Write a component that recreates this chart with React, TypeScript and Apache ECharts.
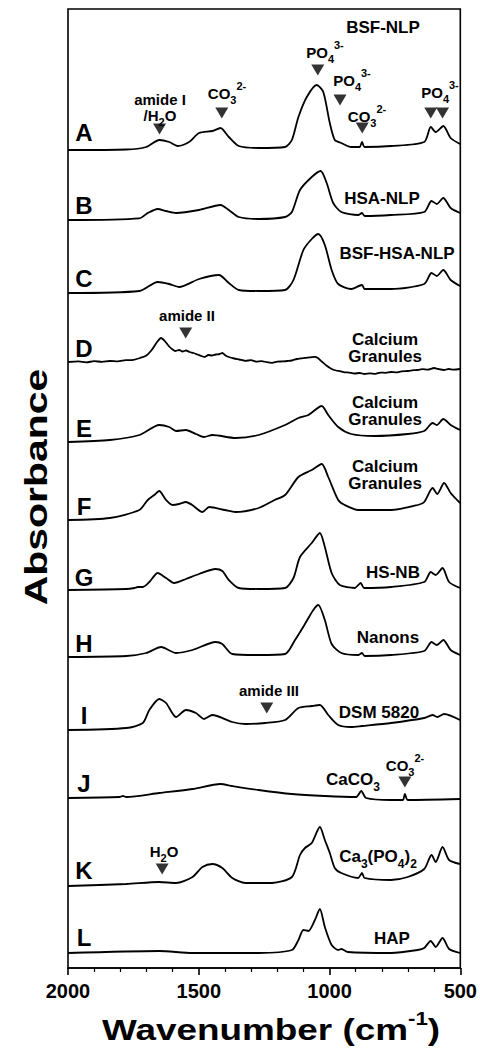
import React, { useEffect, useRef } from "react";
import * as echarts from "echarts";

// ---------- data (wavenumber cm^-1, relative absorbance) ----------
const xTickValues = [2000, 1500, 1000, 500];
const traceLetters = ["A", "B", "C", "D", "E", "F", "G", "H", "I", "J", "K", "L"];
const traceOffsets = [818, 748, 675, 606, 526, 448, 378, 311, 238, 170, 82, 15];

const traceA: number[][] = [[2000,0],[1777,0.5],[1701,3],[1651,10],[1613,8],[1581,4],[1537,8],[1499,17],[1448,19],[1417,22],[1385,13],[1347,4],[1271,2],[1170,3],[1144,10],[1119,33],[1087,53],[1049,65],[1024,58],[999,27],[980,10],[955,7],[917,3],[885,3],[876,8],[866,3],[765,4],[638,8],[613,23],[594,18],[565,24],[537,12],[501,6]];
const traceB: number[][] = [[2000,0],[1727,1.7],[1695,7],[1657,11],[1625,9],[1587,7],[1499,10],[1417,15],[1385,10],[1347,3],[1271,1],[1170,3],[1144,8],[1113,30],[1068,43],[1034,49],[1011,37],[986,17],[955,8],[891,5],[876,7],[866,4],[765,5],[638,8],[610,19],[590,16],[565,22],[537,12],[501,7]];
const traceC: number[][] = [[2000,0],[1727,2],[1657,11],[1613,9],[1575,6],[1499,14],[1423,18],[1385,10],[1347,3],[1271,2],[1170,3],[1138,13],[1100,43],[1068,54],[1043,59],[1018,48],[992,23],[967,9],[917,4],[876,8],[866,4],[765,4],[638,9],[610,20],[590,17],[565,23],[537,13],[501,7]];
const traceD: number[][] = [[2000,0],[1960,0.6],[1930,-0.3],[1900,0.8],[1870,0.2],[1840,1],[1810,0.6],[1780,1.8],[1750,2.2],[1725,4],[1700,6.5],[1680,12],[1662,19],[1644,24],[1630,21],[1615,16],[1600,12.5],[1590,11],[1575,12],[1562,10.5],[1549,11.5],[1535,10],[1520,9],[1505,7.5],[1490,6],[1478,5],[1463,7],[1450,6.5],[1435,7.5],[1420,8],[1410,9],[1398,6.5],[1385,5],[1365,3.5],[1345,2.5],[1322,1.2],[1300,1.8],[1280,0.4],[1260,0.9],[1240,-0.2],[1220,-0.8],[1200,0.3],[1180,0.6],[1160,1],[1144,1.5],[1125,3],[1110,3.6],[1094,4.2],[1075,4.6],[1056,5.2],[1045,4],[1030,0.5],[1012,-3.5],[992,-7],[975,-8.5],[960,-9.2],[942,-10.3],[925,-10.6],[905,-11.5],[885,-11],[866,-12],[845,-11.4],[825,-11.8],[805,-10.6],[785,-10.8],[765,-10],[745,-10.4],[725,-9.3],[700,-9],[680,-8.2],[663,-8],[645,-7.2],[625,-7.6],[600,-6],[585,-7],[562,-8],[545,-7],[525,-7.6],[501,-7]];
const traceE: number[][] = [[2000,0],[1840,2],[1727,7],[1651,17],[1613,15],[1587,11],[1549,12],[1511,8],[1480,5],[1448,7],[1359,4],[1271,7],[1170,17],[1119,24],[1081,27],[1030,36],[1005,27],[967,15],[917,8],[828,6],[701,8],[638,11],[606,19],[590,17],[565,23],[537,17],[501,12]];
const traceF: number[][] = [[2000,0],[1840,2],[1727,10],[1695,20],[1670,25],[1651,29],[1625,20],[1600,15],[1575,16],[1549,18],[1525,15],[1486,8],[1460,13],[1400,10],[1360,8],[1271,12],[1210,20],[1170,25],[1119,43],[1068,50],[1030,56],[1005,43],[967,20],[942,15],[891,10],[765,10],[663,15],[638,18],[606,32],[588,26],[562,37],[537,27],[501,17]];
const traceG: number[][] = [[2000,0],[1777,1],[1746,2],[1733,3],[1714,3],[1689,8],[1657,17],[1625,12],[1594,7],[1549,11],[1499,16],[1436,21],[1410,19],[1385,10],[1347,2],[1271,1],[1170,2],[1138,12],[1113,33],[1068,47],[1037,57],[1018,43],[992,17],[961,5],[904,2],[881,7],[868,2],[765,3],[638,8],[613,18],[594,15],[568,22],[543,8],[501,2]];
const traceH: number[][] = [[2000,0],[1777,1],[1701,4],[1644,10],[1587,4],[1524,7],[1436,15],[1410,13],[1372,3],[1271,2],[1170,3],[1132,17],[1094,33],[1062,47],[1043,52],[1018,37],[992,13],[955,4],[891,2],[876,4],[866,1],[765,2],[638,6],[610,15],[590,12],[565,17],[537,7],[501,2]];
const traceI: number[][] = [[2000,0],[1777,2],[1714,7],[1689,20],[1651,31],[1625,27],[1587,13],[1549,20],[1511,17],[1480,11],[1448,15],[1372,8],[1322,6],[1246,7],[1170,10],[1119,22],[1068,24],[1037,25],[1005,15],[967,5],[917,3],[876,4],[765,7],[638,12],[606,15],[588,13],[562,16],[501,10]];
const traceJ: number[][] = [[2000,0],[1803,1],[1790,2],[1777,1],[1651,5],[1524,9],[1417,14],[1372,12],[1271,8],[1144,4],[1018,2],[898,1],[879,7],[860,0],[765,-2],[720,-2],[712,4],[701,-2],[501,-1]];
const traceK: number[][] = [[2000,0],[1777,2],[1651,4],[1587,3],[1524,9],[1486,19],[1448,22],[1410,18],[1372,8],[1322,3],[1220,3],[1144,9],[1113,31],[1094,38],[1068,43],[1037,59],[1018,46],[999,33],[980,18],[955,13],[891,8],[876,13],[866,8],[765,6],[701,9],[638,17],[610,31],[594,24],[568,39],[543,26],[501,22]];
const traceL: number[][] = [[2000,0],[1651,2],[1524,0],[1271,0],[1144,3],[1119,13],[1100,23],[1081,22],[1056,33],[1037,44],[1018,26],[992,8],[967,3],[955,4],[930,1],[765,0],[663,3],[638,5],[613,12],[594,6],[568,15],[543,4],[501,0]];
const traces = [traceA, traceB, traceC, traceD, traceE, traceF, traceG, traceH, traceI, traceJ, traceK, traceL];

// band markers (wavenumber, level on the stacked axis)
const bandMarkers: number[][] = [[1650,839],[1412,855],[1045,898],[960,868],[875,840],[613,855],[568,855],[1550,635],[1240,260],[712,186],[1640,99]];

// ---------- text ----------
const FONT = "'Liberation Sans', Arial, Helvetica, sans-serif";

type Lbl = { x: number; y: number; t: string; lh?: number };
const sampleLabels: Lbl[] = [
  { x: 383, y: 27, t: "{m|BSF-NLP}" },
  { x: 382, y: 198, t: "{m|HSA-NLP}" },
  { x: 397, y: 253, t: "{m|BSF-HSA-NLP}" },
  { x: 385, y: 348, t: "{m|Calcium}\n{m|Granules}", lh: 17 },
  { x: 385, y: 411, t: "{m|Calcium}\n{m|Granules}", lh: 17 },
  { x: 385, y: 475, t: "{m|Calcium}\n{m|Granules}", lh: 17 },
  { x: 393, y: 572, t: "{m|HS-NB}" },
  { x: 388, y: 637, t: "{m|Nanons}" },
  { x: 379, y: 712, t: "{m|DSM 5820}" },
  { x: 353, y: 779, t: "{m|CaCO}{b|3}" },
  { x: 378, y: 856, t: "{m|Ca}{b|3}{m|(PO}{b|4}{m|)}{b|2}" },
  { x: 392, y: 938, t: "{m|HAP}" },
];
const bandLabels: Lbl[] = [
  { x: 160, y: 99, t: "{m|amide I}" },
  { x: 160, y: 115, t: "{m|/H}{b|2}{m|O}" },
  { x: 227, y: 93, t: "{m|CO}{b|3}{p|2-}" },
  { x: 325, y: 52, t: "{m|PO}{b|4}{p|3-}" },
  { x: 352, y: 80, t: "{m|PO}{b|4}{p|3-}" },
  { x: 367, y: 116, t: "{m|CO}{b|3}{p|2-}" },
  { x: 440, y: 92, t: "{m|PO}{b|4}{p|3-}" },
  { x: 187, y: 315, t: "{m|amide II}" },
  { x: 269, y: 690, t: "{m|amide III}" },
  { x: 405, y: 765, t: "{m|CO}{b|3}{p|2-}" },
  { x: 164, y: 851, t: "{m|H}{b|2}{m|O}" },
];

function richSet(size: number, lh?: number) {
  const sub = Math.round(size * 0.72);
  return {
    m: { fontSize: size, fontWeight: "bold", fontFamily: FONT, fill: "#000", lineHeight: lh ?? size + 10, verticalAlign: "middle" },
    b: { fontSize: sub, fontWeight: "bold", fontFamily: FONT, fill: "#000", lineHeight: sub, verticalAlign: "bottom" },
    p: { fontSize: sub, fontWeight: "bold", fontFamily: FONT, fill: "#000", lineHeight: sub, verticalAlign: "top" },
  };
}

function textEl(l: Lbl, size: number) {
  return {
    type: "text",
    x: l.x,
    y: l.y,
    silent: true,
    style: {
      text: l.t,
      rich: richSet(size, l.lh),
      fontSize: size,
      fontWeight: "bold",
      fontFamily: FONT,
      fill: "#000",
      align: "center",
      verticalAlign: "middle",
    },
  };
}

const letterY = [132, 205, 278, 348, 428, 506, 577, 643, 715, 783, 870, 937];

export default function App() {
  const ref = useRef<HTMLDivElement>(null);
  useEffect(() => {
    document.body.style.margin = "0";
    if (!ref.current) return;
    const chart = echarts.init(ref.current, undefined, { renderer: "svg" });

    const lineSeries = traces.map((tr, i) => ({
      type: "line",
      name: traceLetters[i],
      data: tr.map(([w, h]) => [w, h + traceOffsets[i]]),
      showSymbol: false,
      smooth: 0.25,
      lineStyle: { color: "#000", width: 1.8 },
      silent: true,
    }));

    const letterEls = traceLetters.map((L, i) => ({
      type: "text",
      x: 84,
      y: letterY[i],
      silent: true,
      style: { text: L, fontSize: 24, fontWeight: "bold", fontFamily: FONT, fill: "#000", align: "center", verticalAlign: "middle" },
    }));

    chart.setOption({
      animation: false,
      backgroundColor: "#fff",
      grid: { left: 68, right: 16, top: 9, bottom: 84, show: true, borderColor: "#000", borderWidth: 1.6, backgroundColor: "transparent" },
      xAxis: {
        type: "value",
        min: 500,
        max: 2000,
        interval: 500,
        inverse: true,
        axisLine: { show: true, lineStyle: { color: "#000", width: 1.6 } },
        axisTick: { show: true, inside: false, length: 7, lineStyle: { color: "#000", width: 1.6 } },
        minorTick: { show: true, splitNumber: 5, length: 4, lineStyle: { color: "#000", width: 1.2 } },
        splitLine: { show: false },
        axisLabel: {
          margin: 13,
          color: "#000",
          fontSize: 20,
          fontWeight: "bold",
          fontFamily: FONT,
          formatter: (v: number) => (xTickValues.includes(v) ? String(v) : ""),
        },
      },
      yAxis: {
        type: "value",
        min: 0,
        max: 959,
        axisLine: { show: false },
        axisTick: { show: false },
        axisLabel: { show: false },
        splitLine: { show: false },
      },
      series: [
        ...lineSeries,
        {
          type: "scatter",
          data: bandMarkers,
          symbol: "triangle",
          symbolRotate: 180,
          symbolSize: [13, 11],
          itemStyle: { color: "#000" },
          silent: true,
          z: 5,
        },
      ],
      graphic: [
        ...letterEls,
        ...sampleLabels.map((l) => textEl(l, 17)),
        ...bandLabels.map((l) => textEl(l, 15)),
        {
          type: "text",
          x: 271,
          y: 1030,
          scaleX: 1.23,
          silent: true,
          style: {
            text: "{t|Wavenumber (cm}{s|-1}{t|)}",
            rich: {
              t: { fontSize: 30, fontWeight: "bold", fontFamily: FONT, fill: "#000", lineHeight: 40, verticalAlign: "middle" },
              s: { fontSize: 18, fontWeight: "bold", fontFamily: FONT, fill: "#000", lineHeight: 18, verticalAlign: "top" },
            },
            align: "center",
            verticalAlign: "middle",
          },
        },
        {
          type: "text",
          x: 36,
          y: 487,
          rotation: Math.PI / 2,
          scaleX: 1.28,
          silent: true,
          style: { text: "Absorbance", fontSize: 32, fontWeight: "bold", fontFamily: FONT, fill: "#000", align: "center", verticalAlign: "middle" },
        },
      ],
    });
    return () => chart.dispose();
  }, []);
  return <div ref={ref} style={{ width: 480, height: 1052 }} />;
}
